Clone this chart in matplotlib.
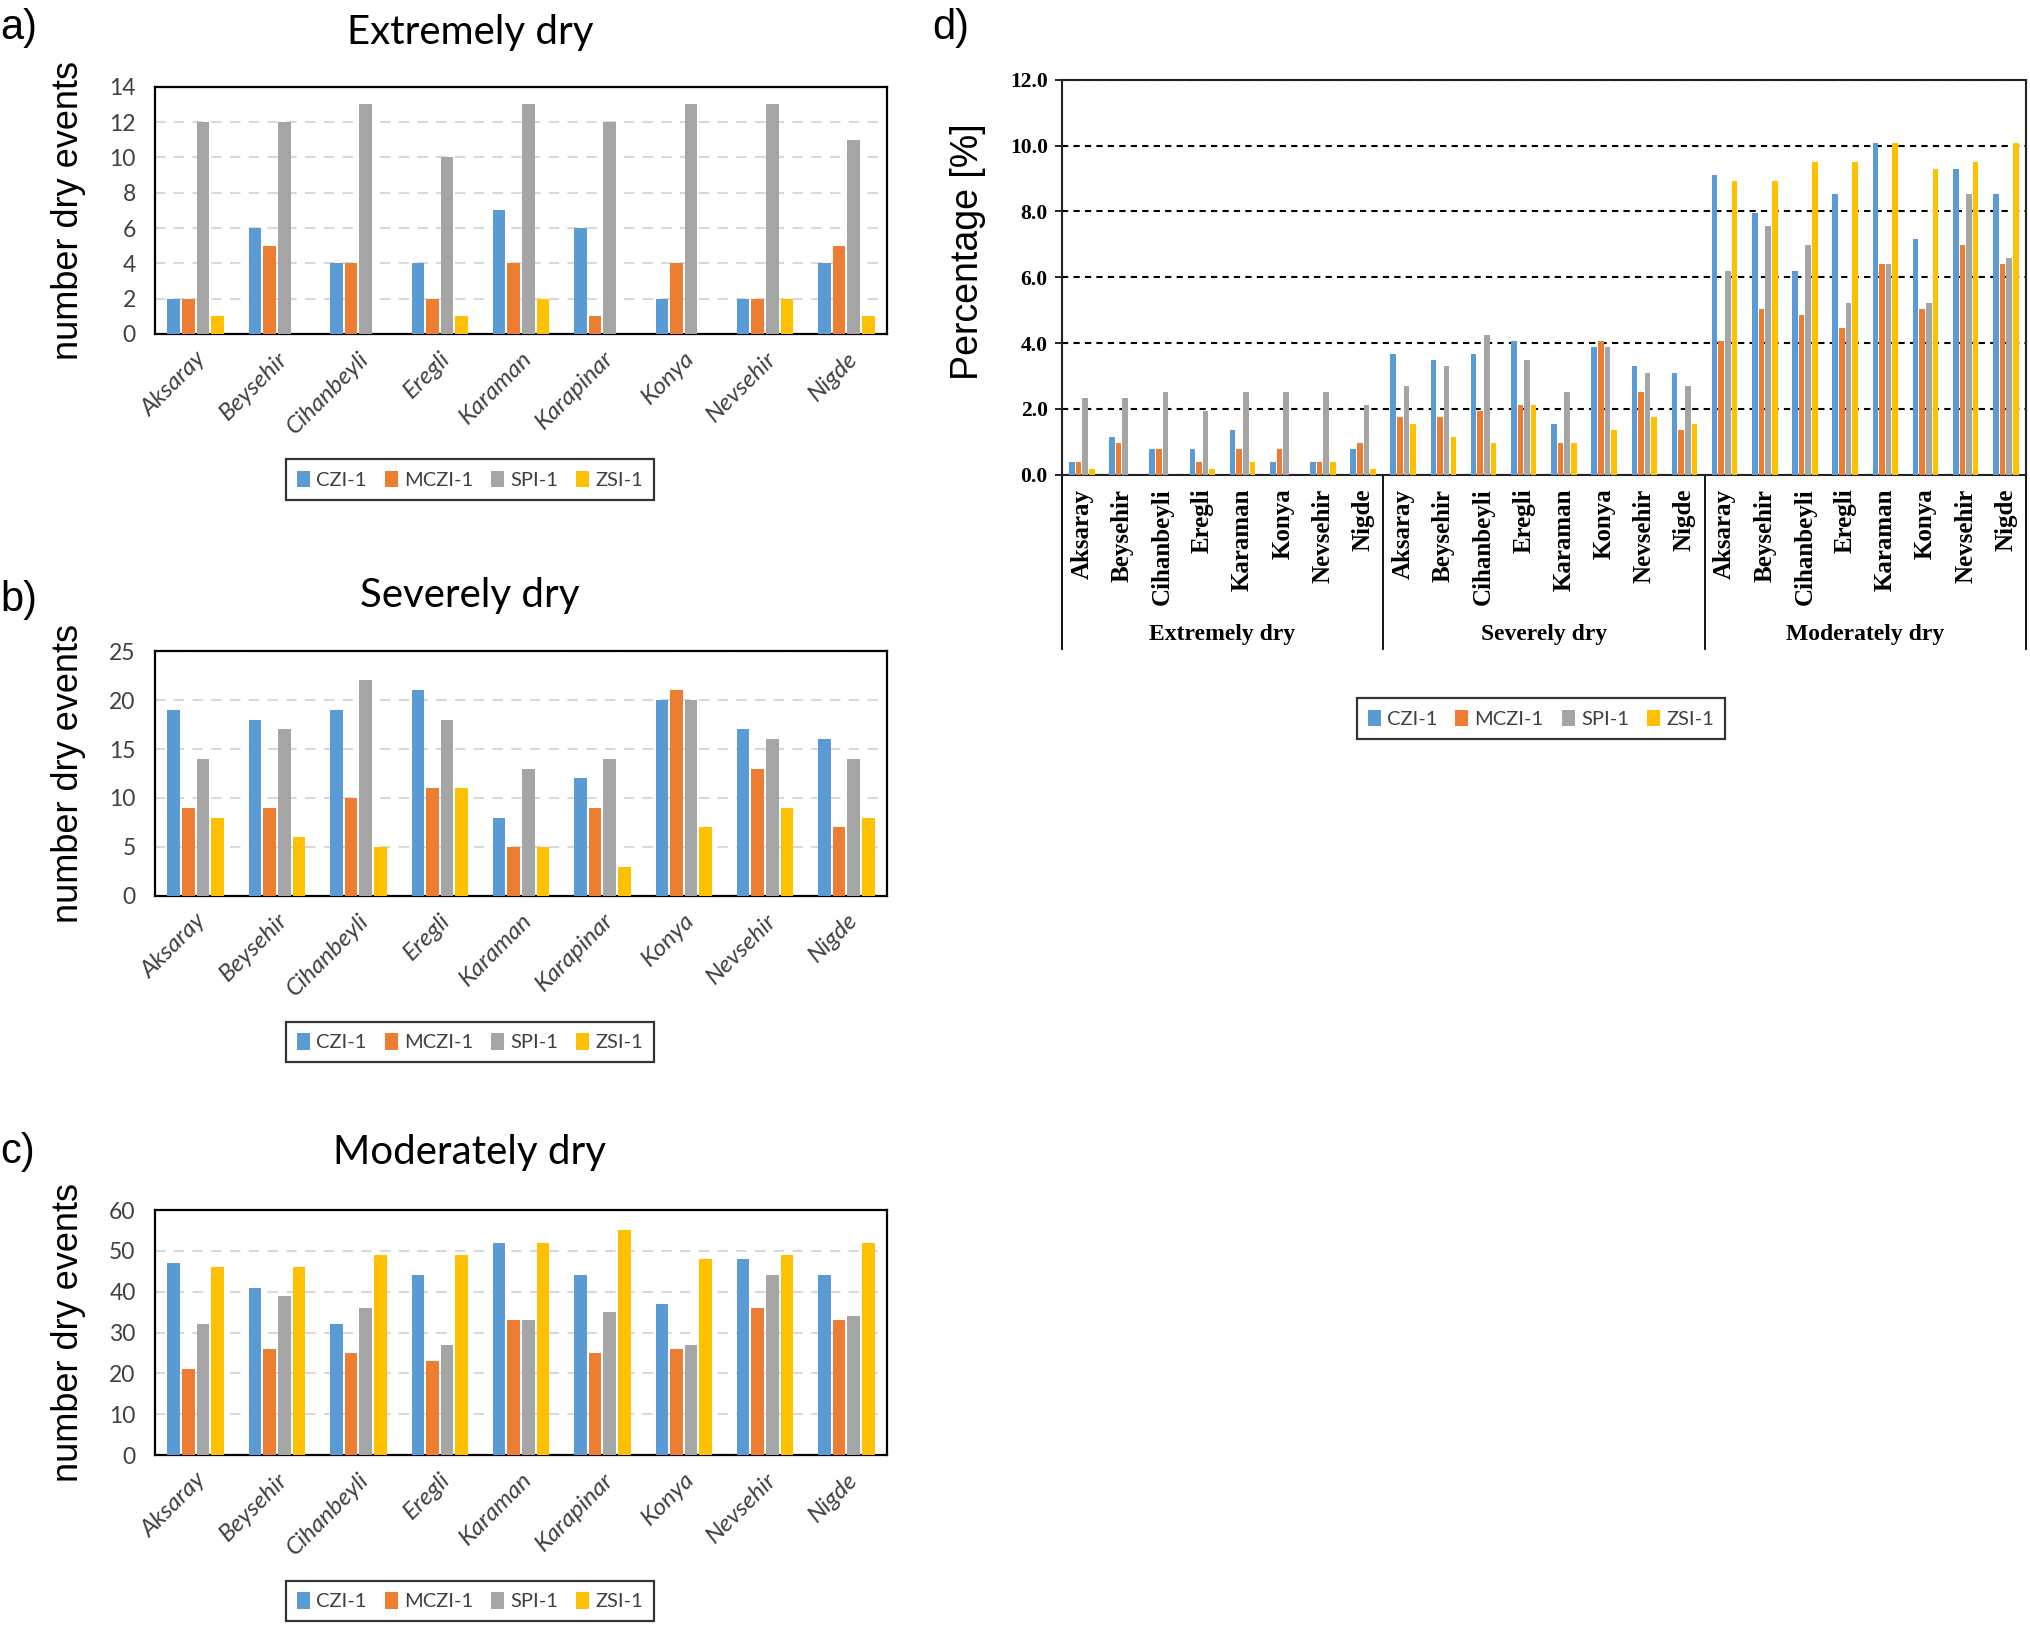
import numpy as np
import matplotlib
matplotlib.use('Agg')
import matplotlib.pyplot as plt
import matplotlib.transforms as mtransforms
from matplotlib.patches import Patch

# stations (panels a-c)
stations = ['Aksaray', 'Beysehir', 'Cihanbeyli', 'Eregli', 'Karaman',
            'Karapinar', 'Konya', 'Nevsehir', 'Nigde']
indices = ['CZI-1', 'MCZI-1', 'SPI-1', 'ZSI-1']
colors = ['#5B9BD5', '#ED7D31', '#A5A5A5', '#FFC000']

# number of dry events
ext_czi = [2, 6, 4, 4, 7, 6, 2, 2, 4]
ext_mczi = [2, 5, 4, 2, 4, 1, 4, 2, 5]
ext_spi = [12, 12, 13, 10, 13, 12, 13, 13, 11]
ext_zsi = [1, 0, 0, 1, 2, 0, 0, 2, 1]

sev_czi = [19, 18, 19, 21, 8, 12, 20, 17, 16]
sev_mczi = [9, 9, 10, 11, 5, 9, 21, 13, 7]
sev_spi = [14, 17, 22, 18, 13, 14, 20, 16, 14]
sev_zsi = [8, 6, 5, 11, 5, 3, 7, 9, 8]

mod_czi = [47, 41, 32, 44, 52, 44, 37, 48, 44]
mod_mczi = [21, 26, 25, 23, 33, 25, 26, 36, 33]
mod_spi = [32, 39, 36, 27, 33, 35, 27, 44, 34]
mod_zsi = [46, 46, 49, 49, 52, 55, 48, 49, 52]

# panel d: percentages (no Karapinar)
stations_d = ['Aksaray', 'Beysehir', 'Cihanbeyli', 'Eregli', 'Karaman',
              'Konya', 'Nevsehir', 'Nigde']
groups_d = ['Extremely dry', 'Severely dry', 'Moderately dry']
pct_czi = [0.38, 1.16, 0.78, 0.78, 1.36, 0.39, 0.39, 0.78,
           3.68, 3.49, 3.68, 4.07, 1.55, 3.88, 3.29, 3.10,
           9.11, 7.95, 6.20, 8.53, 10.08, 7.17, 9.30, 8.53]
pct_mczi = [0.39, 0.97, 0.78, 0.39, 0.78, 0.78, 0.39, 0.97,
            1.74, 1.74, 1.94, 2.13, 0.97, 4.07, 2.52, 1.36,
            4.07, 5.04, 4.84, 4.46, 6.40, 5.04, 6.98, 6.40]
pct_spi = [2.33, 2.33, 2.52, 1.94, 2.52, 2.52, 2.52, 2.13,
           2.71, 3.29, 4.26, 3.49, 2.52, 3.88, 3.10, 2.71,
           6.20, 7.56, 6.98, 5.23, 6.40, 5.23, 8.53, 6.59]
pct_zsi = [0.19, 0.0, 0.0, 0.19, 0.39, 0.0, 0.39, 0.19,
           1.55, 1.16, 0.97, 2.13, 0.97, 1.36, 1.74, 1.55,
           8.91, 8.91, 9.50, 9.50, 10.08, 9.30, 9.50, 10.08]

XL = 'Lato'
ARIAL = 'Liberation Sans'
TIMES = 'Liberation Serif'

fig = plt.figure(figsize=(20.3, 16.26), dpi=100)


def add_legend(x, y):
    handles = [Patch(facecolor=c) for c in colors]
    leg = fig.legend(handles, indices, loc='center', bbox_to_anchor=(x, y),
                     ncol=4, frameon=True, fancybox=False, edgecolor='black',
                     handlelength=0.65, handleheight=0.9, handletextpad=0.3,
                     columnspacing=0.9, borderpad=0.55,
                     prop={'family': XL, 'size': 14.5})
    leg.get_frame().set_linewidth(1.6)
    for t in leg.get_texts():
        t.set_color('#404040')
    return leg


def count_panel(rect, series, title, letter, ymax, ystep, legend_y, title_y, letter_y):
    ax = fig.add_axes(rect)
    x = np.arange(len(stations))
    step = 0.18
    w = 0.155
    for k, vals in enumerate(series):
        ax.bar(x + (k - 1.5) * step, vals, width=w, color=colors[k], zorder=3)
    ax.set_xlim(-0.5, len(stations) - 0.5)
    ax.set_ylim(0, ymax)
    ax.set_yticks(np.arange(0, ymax + 0.1, ystep))
    ax.yaxis.grid(True, linestyle=(0, (5, 4)), color='#d9d9d9', linewidth=1.5, zorder=0)
    ax.set_xticks(x)
    ax.set_xticklabels(stations, rotation=45, ha='right', rotation_mode='anchor',
                       fontstyle='italic', family=XL, fontsize=17.5, color='#404040')
    ax.tick_params(axis='x', length=0, pad=10)
    ax.tick_params(axis='y', length=0, pad=14, labelsize=16.5, labelcolor='#404040')
    for lab in ax.get_yticklabels():
        lab.set_family(XL)
    for sp in ax.spines.values():
        sp.set_linewidth(1.6)
        sp.set_color('black')
    ax.set_ylabel('number dry events', family=ARIAL, fontsize=26)
    ax.yaxis.set_label_coords(-0.095, 0.5)
    fig.text(0.2315, title_y, title, family=XL, fontsize=29, ha='center', va='center')
    fig.text(0.0, letter_y, letter, family=ARIAL, fontsize=30, ha='left', va='center')
    add_legend(0.2315, legend_y)
    return ax


count_panel([0.0764, 0.7946, 0.3606, 0.152], [ext_czi, ext_mczi, ext_spi, ext_zsi],
            'Extremely dry', 'a)', 14, 2, 0.705, 0.980, 0.983)
count_panel([0.0764, 0.449, 0.3606, 0.1506], [sev_czi, sev_mczi, sev_spi, sev_zsi],
            'Severely dry', 'b)', 25, 5, 0.359, 0.634, 0.631)
count_panel([0.0764, 0.1051, 0.3606, 0.1507], [mod_czi, mod_mczi, mod_spi, mod_zsi],
            'Moderately dry', 'c)', 60, 10, 0.0154, 0.2915, 0.2915)

# panel d
axd = fig.add_axes([0.523, 0.708, 0.475, 0.243])
xd = np.arange(len(pct_czi))
step = 0.165
w = 0.14
for k, vals in enumerate([pct_czi, pct_mczi, pct_spi, pct_zsi]):
    axd.bar(xd + (k - 1.5) * step, vals, width=w, color=colors[k], zorder=3)
axd.set_xlim(-0.5, len(pct_czi) - 0.5)
axd.set_ylim(0, 12)
axd.set_yticks(np.arange(0, 12.1, 2))
axd.set_yticklabels(['%.1f' % v for v in np.arange(0, 12.1, 2)],
                    family=TIMES, fontweight='bold', fontsize=15.5)
axd.yaxis.grid(True, linestyle=(0, (3, 2.5)), color='black', linewidth=1.5, zorder=1)
axd.tick_params(axis='y', length=5, width=1.2, pad=5)
axd.set_xticks(xd)
axd.set_xticklabels(stations_d * 3, rotation=90, family=TIMES, fontweight='bold',
                    fontsize=18)
axd.tick_params(axis='x', length=0, pad=10)
for sp in axd.spines.values():
    sp.set_linewidth(1.5)
    sp.set_color('#222222')
axd.set_ylabel('Percentage [%]', family=ARIAL, fontsize=27)
axd.yaxis.set_label_coords(-0.078, 0.565)

trans = mtransforms.blended_transform_factory(axd.transData, axd.transAxes)
for xs in [-0.5, 7.5, 15.5, 23.5]:
    axd.plot([xs, xs], [0, -0.44], transform=trans, color='black', linewidth=1.3,
             clip_on=False)
for g, name in enumerate(groups_d):
    axd.text(g * 8 + 3.5, -0.405, name, transform=trans, ha='center', va='center',
             family=TIMES, fontweight='bold', fontsize=17)

add_legend(0.759, 0.558)

fig.text(0.459, 0.983, 'd)', family=ARIAL, fontsize=30, ha='left', va='center')

fig.savefig('out.png', dpi=100)
